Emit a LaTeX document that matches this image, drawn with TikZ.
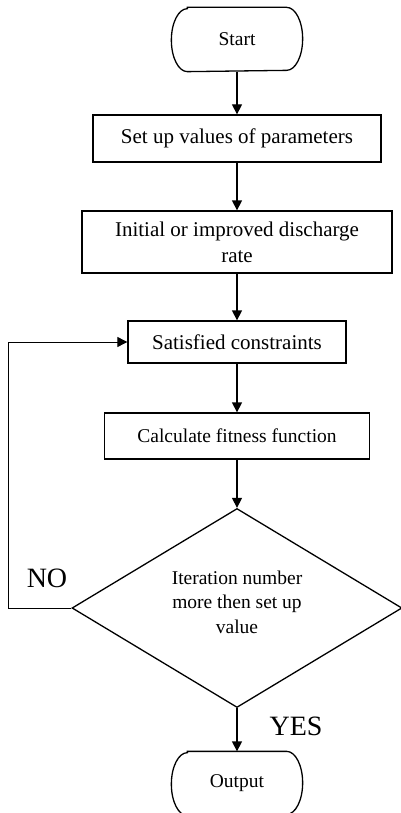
\documentclass[tikz,border=0pt]{standalone}
\usepackage{fontspec}
\setmainfont{Liberation Serif}
\usetikzlibrary{shapes.geometric, arrows.meta}

\begin{document}
\begin{tikzpicture}[x=1pt, y=-1pt, line width=1.3pt,
  every node/.style={font=\fontsize{21}{26}\selectfont},
  terminal/.style={rectangle, minimum width=130pt, minimum height=63pt, font=\fontsize{19.5}{24}\selectfont},
  process/.style={draw, rectangle, align=center, inner sep=0pt},
  decision/.style={draw, diamond, aspect=1.66, align=center, inner sep=0pt, minimum width=330pt, minimum height=199pt, font=\fontsize{19.5}{24.5}\selectfont},
  flow/.style={-{Triangle[length=10pt, width=10pt]}},
  answer/.style={font=\fontsize{28}{30}\selectfont}]
  \useasboundingbox (0,0) rectangle (400,813);
  \node[terminal] (start) at (237,39.5) {Start};
  \node[process, minimum width=288pt, minimum height=47pt] (setup) at (237,138.5) {Set up values of parameters};
  \node[process, minimum width=310pt, minimum height=62pt] (init) at (237,242) {Initial or improved discharge\\rate};
  \node[process, minimum width=218pt, minimum height=42pt] (sat) at (237,342) {Satisfied constraints};
  \node[process, minimum width=265pt, minimum height=46pt, font=\fontsize{19.5}{24}\selectfont] (fit) at (237,436) {Calculate fitness function};
  \node[decision] (check) at (237,608) {Iteration number\\more then set up\\value\\[-12pt]};
  \node[terminal] (output) at (237,783.5) {Output};
  \foreach \t in {start,output}
    \draw ([xshift=16pt]\t.north west) -- ([xshift=-16pt]\t.north east)
      arc[start angle=90, end angle=-90, x radius=16pt, y radius=31.5pt]
      -- ([xshift=16pt]\t.south west)
      arc[start angle=270, end angle=90, x radius=16pt, y radius=31.5pt] -- cycle;
  \coordinate (loop) at (8,342);
  \node[answer] (no) at (47,578) {NO};
  \node[answer] (yes) at (296,726) {YES};
  \draw[flow] (start) -- (setup);
  \draw[flow] (setup) -- (init);
  \draw[flow] (init) -- (sat);
  \draw[flow] (sat) -- (fit);
  \draw[flow] (fit) -- (check);
  \draw[flow] (check) -- (output);
  \draw[flow, line width=0.9pt] (check.west) -| (loop) -- (sat.west);
\end{tikzpicture}
\end{document}
